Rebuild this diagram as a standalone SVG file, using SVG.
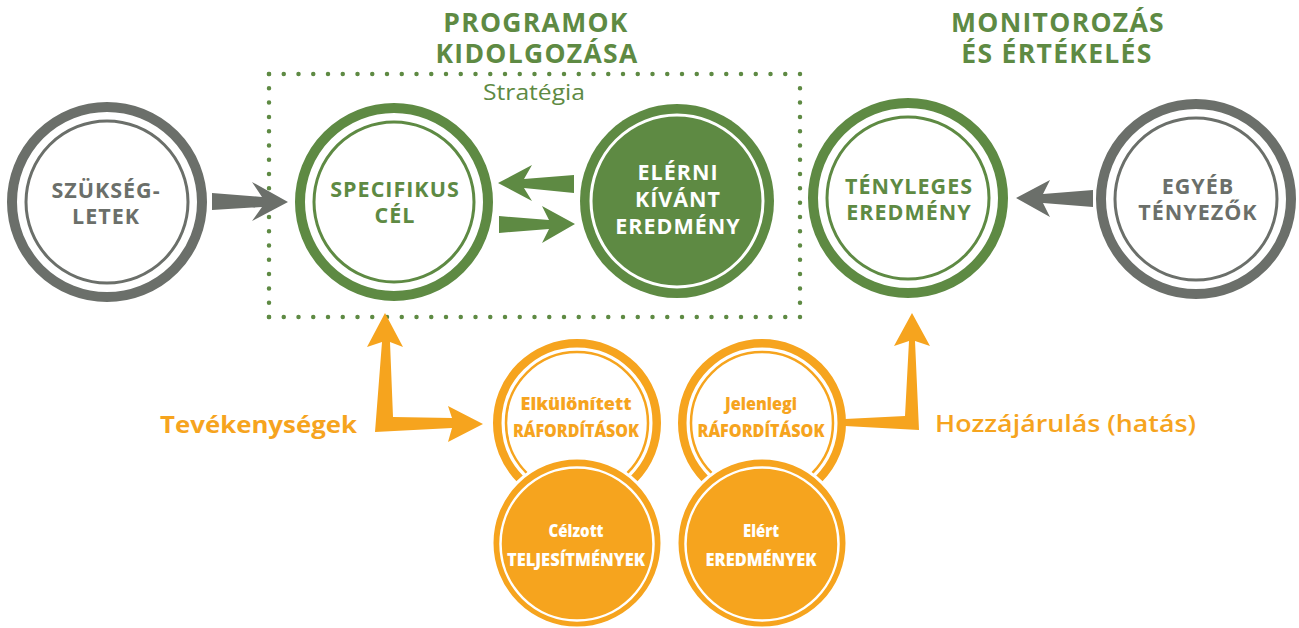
<svg xmlns="http://www.w3.org/2000/svg" width="1299" height="628" viewBox="0 0 1299 628">
<style>
.bg{fill:#ffffff}
.gray{fill:#6b6f6a}
.green{fill:#5e8a43}
.orange{fill:#f6a41e}
.ringG{fill:none;stroke:#6b6f6a}
.ringN{fill:none;stroke:#5e8a43}
.ringO{fill:none;stroke:#f6a41e}
.h{font-family:'Open Sans','Liberation Sans',sans-serif;font-weight:700;text-anchor:middle}
.head{font-size:26.5px;letter-spacing:1.3px;fill:#5e8a43}
.node{font-size:21.5px;letter-spacing:1px}
.oc{font-family:'Open Sans','Liberation Sans',sans-serif;font-weight:800;font-size:17.5px;text-anchor:middle}
.lbl{font-family:'Open Sans','Liberation Sans',sans-serif;font-size:24px;fill:#f6a41e}
.dots{fill:none;stroke:#5e8a43;stroke-width:4.5;stroke-linecap:round}
</style>
<rect class="bg" x="0" y="0" width="1299" height="628"/>

<g id="headings">
<text class="h head" x="536" y="32">PROGRAMOK</text>
<text class="h head" x="537" y="63">KIDOLGOZÁSA</text>
<text class="h head" x="1058" y="32">MONITOROZÁS</text>
<text class="h head" x="1057" y="63">ÉS ÉRTÉKELÉS</text>
</g>

<g id="strategia">
<path class="dots" d="M269 74 H800" stroke-dasharray="0 14.75"/>
<path class="dots" d="M269 317 H800" stroke-dasharray="0 14.75"/>
<path class="dots" d="M269 74 V317" stroke-dasharray="0 14.294"/>
<path class="dots" d="M800 74 V317" stroke-dasharray="0 14.294"/>
<text x="534" y="100" font-family="'Open Sans','Liberation Sans',sans-serif" font-size="22.5" fill="#5e8a43" text-anchor="middle" textLength="102" lengthAdjust="spacingAndGlyphs">Stratégia</text>
</g>

<g id="connectors">
<polygon class="gray" points="212,193 262,197 252,182 288,202 252,221 262,207 212,210"/>
<polygon class="green" points="574,175 524,179 532,165 498,183 532,201 524,188 574,193"/>
<polygon class="green" points="499,216 549,220 542,206 575,224 542,243 549,229 499,233"/>
<polygon class="gray" points="1093,190 1043,194 1050,180 1016,198 1050,217 1043,203 1093,207"/>
<polygon class="orange" points="375,432 382,342 367,347 385,313 403,347 390,342 393,417 452,418 448,406 483,424 448,442 452,428"/>
<polygon class="orange" points="845,419 905,416 909,341 894,346 912,313 930,346 915,341 919,430 845,426"/>
</g>

<g id="szuksegletek">
<circle class="ringG" cx="107" cy="202" r="95" stroke-width="10"/>
<circle class="ringG" cx="107" cy="202" r="81" stroke-width="3"/>
<text class="h node gray" x="106" y="198">SZÜKSÉG-</text>
<text class="h node gray" x="106" y="224">LETEK</text>
</g>

<g id="specifikus">
<circle class="ringN" cx="394" cy="202" r="94" stroke-width="10"/>
<circle class="ringN" cx="394" cy="202" r="80" stroke-width="3"/>
<text class="h node green" x="395" y="197">SPECIFIKUS</text>
<text class="h node green" x="395" y="223">CÉL</text>
</g>

<g id="elerni">
<circle class="green" cx="677" cy="201" r="97"/>
<circle fill="none" stroke="#ffffff" stroke-width="3" cx="677" cy="201" r="86"/>
<text class="h node" fill="#ffffff" x="678" y="180">ELÉRNI</text>
<text class="h node" fill="#ffffff" x="678" y="207">KÍVÁNT</text>
<text class="h node" fill="#ffffff" x="678" y="234">EREDMÉNY</text>
</g>

<g id="tenyleges">
<circle class="ringN" cx="908" cy="198" r="95" stroke-width="10"/>
<circle class="ringN" cx="908" cy="198" r="81" stroke-width="3"/>
<text class="h node green" x="909" y="194">TÉNYLEGES</text>
<text class="h node green" x="909" y="220">EREDMÉNY</text>
</g>

<g id="egyeb">
<circle class="ringG" cx="1196" cy="199" r="95" stroke-width="10"/>
<circle class="ringG" cx="1196" cy="199" r="81" stroke-width="3"/>
<text class="h node gray" x="1198" y="194">EGYÉB</text>
<text class="h node gray" x="1198" y="220">TÉNYEZŐK</text>
</g>

<g id="elkulonitett">
<circle class="ringO" cx="577" cy="423" r="79.75" stroke-width="8.5"/>
<circle class="ringO" cx="577" cy="423" r="71" stroke-width="2.5"/>
<text class="oc" fill="#f6a41e" x="576" y="410" textLength="111" lengthAdjust="spacingAndGlyphs">Elkülönített</text>
<text class="oc" fill="#f6a41e" x="576" y="437" textLength="126" lengthAdjust="spacingAndGlyphs">RÁFORDÍTÁSOK</text>
</g>

<g id="celzott">
<circle class="orange" cx="577" cy="543" r="85" stroke="#ffffff" stroke-width="3"/>
<circle fill="none" stroke="#ffffff" stroke-width="2.5" cx="577" cy="544" r="76.5"/>
<text class="oc" fill="#ffffff" x="576" y="537" textLength="55" lengthAdjust="spacingAndGlyphs">Célzott</text>
<text class="oc" fill="#ffffff" x="576" y="566" textLength="138" lengthAdjust="spacingAndGlyphs">TELJESÍTMÉNYEK</text>
</g>

<g id="jelenlegi">
<circle class="ringO" cx="762" cy="423" r="79.75" stroke-width="8.5"/>
<circle class="ringO" cx="762" cy="423" r="71" stroke-width="2.5"/>
<text class="oc" fill="#f6a41e" x="761" y="410" textLength="72" lengthAdjust="spacingAndGlyphs">Jelenlegi</text>
<text class="oc" fill="#f6a41e" x="761" y="437" textLength="127" lengthAdjust="spacingAndGlyphs">RÁFORDÍTÁSOK</text>
</g>

<g id="elert">
<circle class="orange" cx="762" cy="543" r="85" stroke="#ffffff" stroke-width="3"/>
<circle fill="none" stroke="#ffffff" stroke-width="2.5" cx="762" cy="544" r="76.5"/>
<text class="oc" fill="#ffffff" x="761" y="537" textLength="36" lengthAdjust="spacingAndGlyphs">Elért</text>
<text class="oc" fill="#ffffff" x="761" y="566" textLength="111" lengthAdjust="spacingAndGlyphs">EREDMÉNYEK</text>
</g>

<g id="labels">
<text class="lbl" x="160" y="433" font-weight="700" textLength="197" lengthAdjust="spacingAndGlyphs">Tevékenységek</text>
<text class="lbl" x="935" y="432" font-weight="600" textLength="261" lengthAdjust="spacingAndGlyphs">Hozzájárulás (hatás)</text>
</g>
</svg>
